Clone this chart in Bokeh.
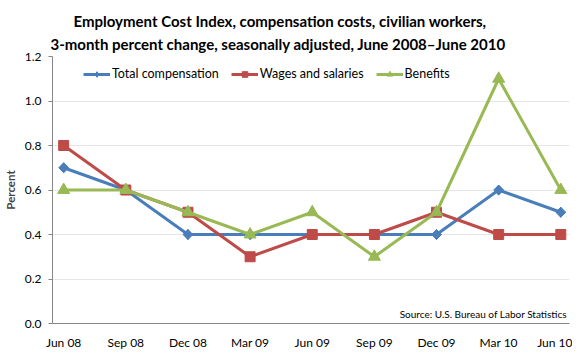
import math
from bokeh.plotting import figure
from bokeh.models import Range1d, FixedTicker, Legend, LegendItem, Label, Title, ColumnDataSource
from bokeh.embed import file_html
from bokeh.resources import INLINE

categories = ["Jun 08", "Sep 08", "Dec 08", "Mar 09", "Jun 09", "Sep 09", "Dec 09", "Mar 10", "Jun 10"]
total_compensation = [0.7, 0.6, 0.4, 0.4, 0.4, 0.4, 0.4, 0.6, 0.5]
wages_and_salaries = [0.8, 0.6, 0.5, 0.3, 0.4, 0.4, 0.5, 0.4, 0.4]
benefits = [0.6, 0.6, 0.5, 0.4, 0.5, 0.3, 0.5, 1.1, 0.6]
y_ticks = [0.0, 0.2, 0.4, 0.6, 0.8, 1.0, 1.2]
title_lines = ["Employment Cost Index, compensation costs, civilian workers,",
               "3-month percent change, seasonally adjusted, June 2008\u2013June 2010"]
source_note = "Source: U.S. Bureau of Labor Statistics"

FONT = "Lato"
xs = list(range(len(categories)))

FL, FR, FT, FB = 52, 3, 56, 29
W, H = 572, 352
frame_h = H - FT - FB

p = figure(width=W, height=H, output_backend="svg", toolbar_location=None,
           x_range=Range1d(-0.18, len(categories) - 1 + 0.14), y_range=Range1d(0, 1.2),
           min_border_left=FL, min_border_right=FR, min_border_top=FT, min_border_bottom=FB)
p.outline_line_color = None
p.background_fill_color = "white"
p.border_fill_color = "white"

# (name, values, colour, legend marker, legend size, extra plot marker)
series = [
    ("Total compensation", total_compensation, "#4A7EBB", "diamond", 10, ("square", 7, math.pi / 4)),
    ("Wages and salaries", wages_and_salaries, "#BE4B48", "square", 10, None),
    ("Benefits", benefits, "#98B954", "triangle", 12, None),
]
items = []
for name, vals, color, marker, size, extra in series:
    src = ColumnDataSource(dict(x=xs, y=vals))
    r1 = p.line("x", "y", source=src, line_color=color, line_width=3)
    r2 = p.scatter("x", "y", source=src, marker=marker, size=size,
                   fill_color=color, line_color=color)
    if extra is not None:
        m, s, a = extra
        p.scatter("x", "y", source=src, marker=m, size=s, angle=a,
                  fill_color=color, line_color=color)
    items.append(LegendItem(label=name, renderers=[r1, r2]))

legend = Legend(items=items, orientation="horizontal", location=(31, frame_h - 25),
                border_line_color=None, background_fill_alpha=0,
                label_text_font=FONT, label_text_font_size="12.5px", label_text_color="#000000",
                glyph_width=27, glyph_height=14, label_standoff=2, spacing=12, padding=2, margin=0,
                label_height=14)
p.add_layout(legend, "center")

# axes
p.xaxis.ticker = FixedTicker(ticks=xs)
p.xaxis.major_label_overrides = {i: c for i, c in enumerate(categories)}
p.xaxis.major_tick_out = 0
p.xaxis.major_tick_in = 0
p.xaxis.minor_tick_out = 0
p.xaxis.minor_tick_in = 0
p.xaxis.major_label_standoff = 11
p.xaxis.axis_line_color = "#868686"

p.yaxis.ticker = FixedTicker(ticks=y_ticks)
p.yaxis.major_label_overrides = {v: f"{v:.1f}" for v in y_ticks}
p.yaxis.major_tick_out = 4
p.yaxis.major_tick_in = 0
p.yaxis.minor_tick_out = 0
p.yaxis.minor_tick_in = 0
p.yaxis.major_tick_line_color = "#868686"
p.yaxis.axis_line_color = "#868686"
p.yaxis.major_label_standoff = 7
p.yaxis.axis_label = "Percent"
p.yaxis.axis_label_text_font = FONT
p.yaxis.axis_label_text_font_size = "11.5px"
p.yaxis.axis_label_text_font_style = "bold"
p.yaxis.axis_label_standoff = 5

for ax in (p.xaxis, p.yaxis):
    ax.major_label_text_font = FONT
    ax.major_label_text_font_size = "12px"
    ax.major_label_text_color = "#000000"

p.xgrid.grid_line_color = None
p.ygrid.grid_line_color = "#E6E6E6"
p.ygrid.grid_line_width = 1

p.add_layout(Label(x=len(categories) - 1 + 0.1, y=0.015, text=source_note,
                   text_align="right", text_baseline="bottom", text_font=FONT, text_font_size="10px",
                   text_color="#000000"))

# title lines (left-aligned with offsets so the block centres near x=280)
t2 = Title(text=title_lines[1], align="left", offset=-2, text_font=FONT, text_font_size="15px",
           text_font_style="bold", text_color="#000000", standoff=7)
t1 = Title(text=title_lines[0], align="left", offset=21, text_font=FONT, text_font_size="15px",
           text_font_style="bold", text_color="#000000", standoff=0)
p.add_layout(t2, "above")
p.add_layout(t1, "above")

open("out.html", "w").write(file_html(p, INLINE))
